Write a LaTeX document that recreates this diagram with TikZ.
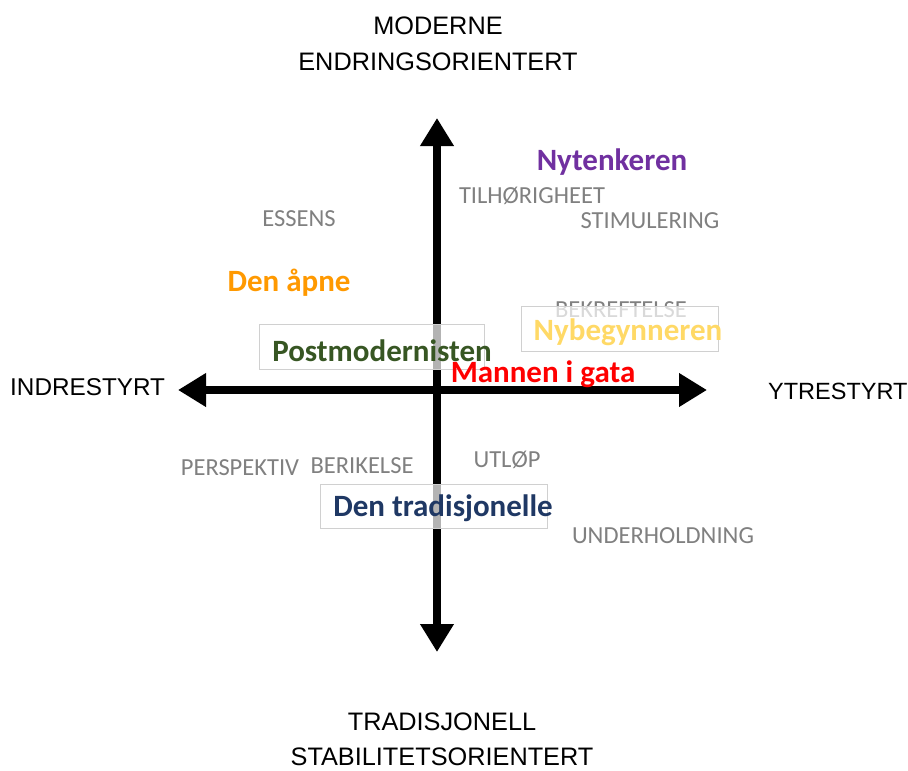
\documentclass[tikz,border=0pt]{standalone}
\usepackage{fontspec}
\setmainfont{Liberation Sans}
\newfontfamily\calib{Carlito}
\usetikzlibrary{arrows.meta}
\definecolor{lblgray}{HTML}{808080}
\definecolor{npurple}{HTML}{7030A0}
\definecolor{norange}{HTML}{FF9900}
\definecolor{ngreen}{HTML}{375623}
\definecolor{nyellow}{HTML}{FFD966}
\definecolor{nnavy}{HTML}{1F3864}
\definecolor{boxline}{HTML}{D0D0D0}
\tikzset{
  axis/.style={line width=8pt,-{Triangle[width=32pt,length=28pt]},shorten >=0pt},
  axlabel/.style={font=\fontsize{25.3}{28}\selectfont,inner sep=0pt,align=center},
  hlabel/.style={font=\fontsize{24.3}{28}\selectfont,inner sep=0pt},
  lbl/.style={font=\calib\fontsize{24.5}{26}\selectfont,text=lblgray,inner sep=0pt},
  who/.style={font=\calib\bfseries\fontsize{31}{34}\selectfont,inner sep=0pt},
  wbox/.style={draw=boxline,line width=0.8pt,fill=white,fill opacity=0.7}
}
\begin{document}
\begin{tikzpicture}[x=1pt,y=-1pt]
\useasboundingbox (0,0) rectangle (908,771);
\coordinate (c) at (437,390);
\coordinate (top) at (437,118);
\coordinate (bot) at (437,652);
\coordinate (lft) at (178,390);
\coordinate (rgt) at (707,390);
\draw[axis] (c) -- (top);
\draw[axis] (c) -- (bot);
\draw[axis] (c) -- (lft);
\draw[axis] (c) -- (rgt);
% gray labels
\node[lbl] (til) at (532,196) {TILHØRIGHEET};
\node[lbl] (stim) at (650,221) {STIMULERING};
\node[lbl] (ess) at (299,219) {ESSENS};
\node[lbl] (bekr) at (621,310) {BEKREFTELSE};
\node[lbl] (persp) at (240,468) {PERSPEKTIV};
\node[lbl] (berik) at (362,466) {BERIKELSE};
\node[lbl] (utlop) at (507,460) {UTLØP};
\node[lbl] (under) at (663,536) {UNDERHOLDNING};
% boxes
\draw[wbox] (259,324) rectangle (484,369);
\draw[wbox] (521,306) rectangle (718,351);
\draw[wbox] (320,484) rectangle (547,528);
% axis labels
\node[axlabel] (mod) at (438,26) {MODERNE};
\node[axlabel] (endr) at (438,62) {ENDRINGSORIENTERT};
\node[axlabel] (trad) at (442,722) {TRADISJONELL};
\node[axlabel] (stab) at (442,757) {STABILITETSORIENTERT};
\node[hlabel,anchor=west] (ind) at (10,387) {INDRESTYRT};
\node[hlabel,anchor=west,font=\fontsize{23.5}{28}\selectfont] (ytr) at (768,391) {YTRESTYRT};
% names
\node[who,text=npurple] (nyt) at (612,162) {Nytenkeren};
\node[who,text=norange] (apne) at (289,283) {Den åpne};
\node[who,text=nyellow] (nyb) at (628,332) {Nybegynneren};
\node[who,text=ngreen] (post) at (382,351) {Postmodernisten};
\node[who,text=red] (mann) at (543,374) {Mannen i gata};
\node[who,text=nnavy] (trd) at (443,508) {Den tradisjonelle};
\end{tikzpicture}
\end{document}
